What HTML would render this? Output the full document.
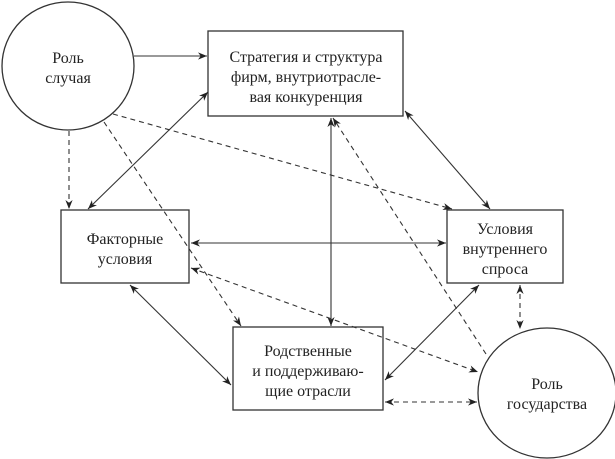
<!DOCTYPE html>
<html><head><meta charset="utf-8"><style>
html,body{margin:0;padding:0;background:#fff}
svg{display:block}
text{font-family:"Liberation Serif",serif;font-size:16px;fill:#222;text-anchor:middle}
</style></head><body>
<svg width="615" height="459" viewBox="0 0 615 459" xmlns="http://www.w3.org/2000/svg">
<defs>
<marker id="a" viewBox="0 0 10 10" refX="10" refY="5" markerWidth="9" markerHeight="9" markerUnits="userSpaceOnUse" orient="auto-start-reverse">
<path d="M0,1 L10,5 L0,9 L3,5 Z" fill="#222"/>
</marker>
</defs>
<g fill="none" stroke="#333" stroke-width="1.3">
<ellipse cx="68" cy="66" rx="66" ry="64"/>
<ellipse cx="547" cy="393" rx="69" ry="65"/>
<rect x="208" y="31" width="195" height="85"/>
<rect x="61" y="210" width="128" height="73"/>
<rect x="447" y="210" width="116" height="73"/>
<rect x="233" y="327" width="150" height="83"/>
</g>
<g stroke="#333" stroke-width="1.1" fill="none">
<line x1="134" y1="56" x2="207" y2="56" marker-end="url(#a)"/>
<line x1="88" y1="209" x2="208" y2="92" marker-start="url(#a)" marker-end="url(#a)"/>
<line x1="405" y1="111" x2="490" y2="209" marker-start="url(#a)" marker-end="url(#a)"/>
<line x1="331" y1="118" x2="331" y2="326" marker-start="url(#a)" marker-end="url(#a)"/>
<line x1="191" y1="243" x2="446" y2="243" marker-start="url(#a)" marker-end="url(#a)"/>
<line x1="130" y1="285" x2="231" y2="385" marker-start="url(#a)" marker-end="url(#a)"/>
<line x1="479" y1="285" x2="385" y2="380" marker-start="url(#a)" marker-end="url(#a)"/>
</g>
<g stroke="#333" stroke-width="1.1" fill="none" stroke-dasharray="5,4">
<line x1="69" y1="131" x2="69" y2="209" marker-end="url(#a)"/>
<line x1="104" y1="122" x2="241" y2="326" marker-end="url(#a)"/>
<line x1="113" y1="114" x2="452" y2="209" marker-end="url(#a)"/>
<line x1="486" y1="354" x2="333" y2="118" marker-end="url(#a)"/>
<line x1="191" y1="268" x2="478" y2="372" marker-start="url(#a)" marker-end="url(#a)"/>
<line x1="520" y1="285" x2="520" y2="329" marker-start="url(#a)" marker-end="url(#a)"/>
<line x1="385" y1="402" x2="477" y2="402" marker-start="url(#a)" marker-end="url(#a)"/>
</g>
<text x="68" y="63">Роль</text>
<text x="68" y="83">случая</text>
<text x="306" y="62">Стратегия и структура</text>
<text x="306" y="82">фирм, внутриотрасле-</text>
<text x="306" y="102">вая конкуренция</text>
<text x="125" y="244">Факторные</text>
<text x="125" y="264">условия</text>
<text x="505" y="234">Условия</text>
<text x="505" y="254">внутреннего</text>
<text x="505" y="274">спроса</text>
<text x="308" y="356">Родственные</text>
<text x="308" y="376">и поддерживаю-</text>
<text x="308" y="396">щие отрасли</text>
<text x="547" y="389">Роль</text>
<text x="547" y="409">государства</text>
</svg>
</body></html>
